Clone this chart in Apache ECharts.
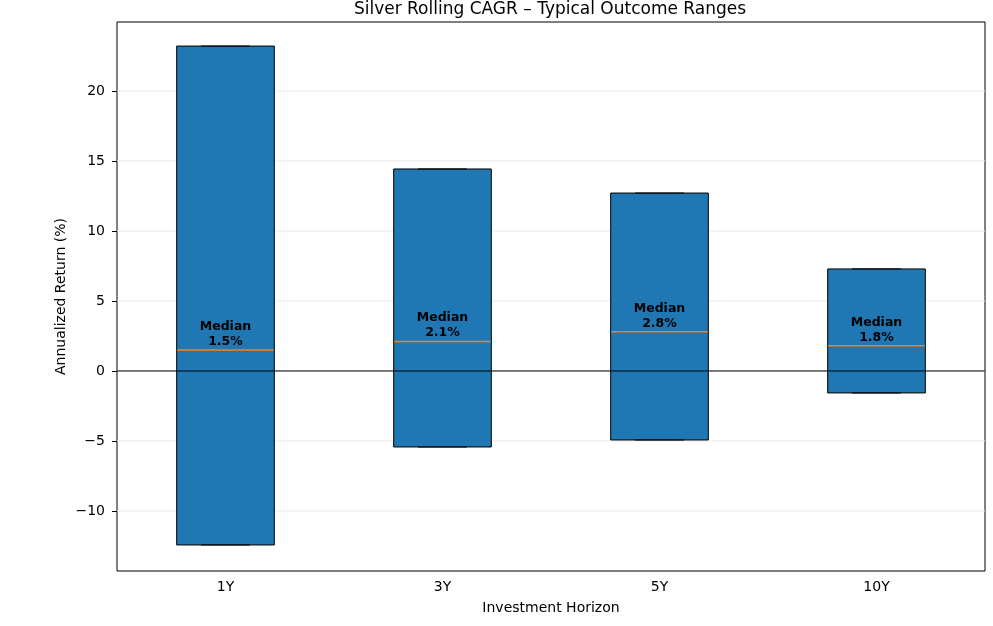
<!DOCTYPE html>
<html>
<head>
<meta charset="utf-8">
<script src="https://cdn.jsdelivr.net/npm/echarts@6/dist/echarts.min.js"></script>
<style>html,body{margin:0;padding:0;background:#fff;}#c{width:993px;height:626px;}</style>
</head>
<body>
<div id="c"></div>
<script>
const categories = ['1Y', '3Y', '5Y', '10Y'];
const lowValues = [-12.43, -5.43, -4.93, -1.57];
const highValues = [23.21, 14.43, 12.71, 7.29];
const medianValues = [1.5, 2.1, 2.8, 1.8];
const yTickValues = [-10, -5, 0, 5, 10, 15, 20];

const font = 'DejaVu Sans';
const chart = echarts.init(document.getElementById('c'), null, {renderer: 'canvas'});
const data = categories.map((c, i) => [i, lowValues[i], highValues[i], medianValues[i]]);

chart.setOption({
  animation: false,
  backgroundColor: '#fff',
  title: {
    text: 'Silver Rolling CAGR – Typical Outcome Ranges',
    left: 545, textAlign: 'center', top: -4,
    textStyle: {fontFamily: font, fontSize: 17, fontWeight: 'normal', color: '#000'}
  },
  grid: {left: 117, right: 8, top: 22, bottom: 55, show: true, borderColor: '#000', borderWidth: 1, backgroundColor: 'transparent'},
  xAxis: {
    type: 'category', data: categories, boundaryGap: true,
    name: 'Investment Horizon', nameLocation: 'middle', nameGap: 30, nameMoveOverlap: false,
    nameTextStyle: {fontFamily: font, fontSize: 14, color: '#000'},
    axisLine: {show: false},
    axisTick: {show: true, alignWithLabel: true, length: 5, lineStyle: {color: '#000'}},
    axisLabel: {fontFamily: font, fontSize: 14, color: '#000', margin: 9},
    splitLine: {show: false}
  },
  yAxis: {
    type: 'value', min: -14.29, max: 24.93,
    name: 'Annualized Return (%)', nameLocation: 'middle', nameGap: 49, nameMoveOverlap: false,
    nameTextStyle: {fontFamily: font, fontSize: 14, color: '#000'},
    axisLine: {show: false},
    axisTick: {show: true, length: 5, lineStyle: {color: '#000'}, customValues: yTickValues},
    axisLabel: {fontFamily: font, fontSize: 14, color: '#000', margin: 12, customValues: yTickValues,
      formatter: v => (v < 0 ? '\u2212' + Math.abs(v) : String(v))},
    splitLine: {show: false}
  },
  series: [
    {
      type: 'custom',
      data: yTickValues.map(v => [0, v]),
      z: 1,
      silent: true,
      renderItem: function (params, api) {
        const v = api.value(1);
        const y = api.coord([0, v])[1];
        const cs = params.coordSys;
        return {type: 'line', shape: {x1: cs.x, y1: y, x2: cs.x + cs.width, y2: y},
          style: {stroke: '#ebebeb', lineWidth: 1}};
      }
    },
    {
      type: 'custom',
      data: data,
      z: 2,
      encode: {x: 0, y: [1, 2, 3]},
      renderItem: function (params, api) {
        const idx = api.value(0);
        const x = api.coord([idx, 0])[0];
        const yLow = api.coord([idx, api.value(1)])[1];
        const yHigh = api.coord([idx, api.value(2)])[1];
        const med = api.value(3);
        const yMed = api.coord([idx, med])[1];
        const w = api.size([1, 0])[0] * 0.45;
        const capW = w * 0.5;
        return {
          type: 'group',
          children: [
            {type: 'rect', shape: {x: x - w / 2, y: yHigh, width: w, height: yLow - yHigh},
              style: {fill: '#1f77b4', stroke: '#000', lineWidth: 1}},
            {type: 'line', shape: {x1: x - capW / 2, y1: yHigh, x2: x + capW / 2, y2: yHigh},
              style: {stroke: '#000', lineWidth: 1}},
            {type: 'line', shape: {x1: x - capW / 2, y1: yLow, x2: x + capW / 2, y2: yLow},
              style: {stroke: '#000', lineWidth: 1}},
            {type: 'line', z2: 5, shape: {x1: x - w / 2 + 0.5, y1: yMed, x2: x + w / 2 - 0.5, y2: yMed},
              style: {stroke: '#ff7f0e', lineWidth: 1.5, opacity: 1}},
            {type: 'text', z2: 10, style: {x: x, y: yMed - 1, text: 'Median\n' + med.toFixed(1) + '%',
              fontFamily: font, fontSize: 12.5, fontWeight: 'bold', fill: '#000', align: 'center',
              verticalAlign: 'bottom', lineHeight: 15}}
          ]
        };
      }
    },
    {
      type: 'custom',
      data: [[0, 0]],
      z: 5,
      silent: true,
      renderItem: function (params, api) {
        const y = api.coord([0, 0])[1];
        const cs = params.coordSys;
        return {type: 'line', shape: {x1: cs.x, y1: y, x2: cs.x + cs.width, y2: y},
          style: {stroke: '#000', lineWidth: 1}};
      }
    }
  ]
});
</script>
</body>
</html>
